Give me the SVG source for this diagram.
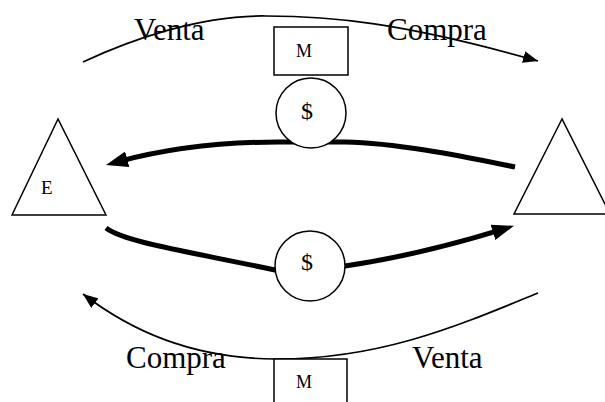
<svg xmlns="http://www.w3.org/2000/svg" width="605" height="402" viewBox="0 0 605 402">
<style>
.thin{fill:none;stroke:#000;stroke-width:1.7}
.thick{fill:none;stroke:#000;stroke-width:5}
.shape{fill:#fff;stroke:#000;stroke-width:1.5}
.lbl{font-family:"Liberation Serif","Times New Roman",serif;fill:#000}
.big{font-size:31px}
.sm{font-size:18px;text-anchor:middle}
.mid{font-size:24px;text-anchor:middle}
</style>
<defs>
<marker id="ah" markerWidth="15" markerHeight="12" refX="15" refY="6" orient="auto-start-reverse" markerUnits="userSpaceOnUse" viewBox="0 0 15 12">
<path d="M0,0 L15,6 L0,12 Z" fill="#000"/>
</marker>
<marker id="ahT" markerWidth="22" markerHeight="16" refX="10" refY="8" orient="auto" markerUnits="userSpaceOnUse" viewBox="0 0 22 16">
<path d="M0,0 L22,8 L0,16 Z" fill="#000"/>
</marker>
</defs>
<g id="connectors">
<path class="thin" d="M83,62 C130,40 200,15 266,16 C330,16 400,22 538,61" marker-end="url(#ah)"/>
<path class="thin" d="M83,294 C130,330 190,358 274,359 C380,360 460,325 538,293" marker-start="url(#ah)"/>
<path class="thick" d="M515,167 C470,158 400,143 345,142 L278,142 C220,142 165,149 117.6,161.8" marker-end="url(#ahT)"/>
<path class="thick" d="M106,228 C125,242 180,250 275,270 L345,266 C400,258 455,244 502.5,229.4" marker-end="url(#ahT)"/>
</g>
<g id="label-venta-top"><text class="lbl big" x="134" y="40">Venta</text></g>
<g id="label-compra-top"><text class="lbl big" x="387" y="40">Compra</text></g>
<g id="label-compra-bottom"><text class="lbl big" x="126" y="368">Compra</text></g>
<g id="label-venta-bottom"><text class="lbl big" x="412" y="368">Venta</text></g>
<g id="box-m-top">
<rect class="shape" x="274" y="27" width="74" height="48"/>
<text class="lbl sm" x="304" y="57">M</text>
</g>
<g id="circle-top">
<circle class="shape" cx="311" cy="113" r="35"/>
<text class="lbl mid" x="307" y="119">$</text>
</g>
<g id="circle-bottom">
<circle class="shape" cx="310" cy="266" r="35"/>
<text class="lbl mid" x="307" y="270">$</text>
</g>
<g id="box-m-bottom">
<rect class="shape" x="274" y="359" width="73" height="50"/>
<text class="lbl sm" x="304" y="388">M</text>
</g>
<g id="triangle-e">
<polygon class="shape" points="58,119 12,215 106,215"/>
<text class="lbl" style="font-size:19px" x="41" y="194">E</text>
</g>
<g id="triangle-right">
<polygon class="shape" points="562,119 514,214 610,214"/>
</g>
</svg>
